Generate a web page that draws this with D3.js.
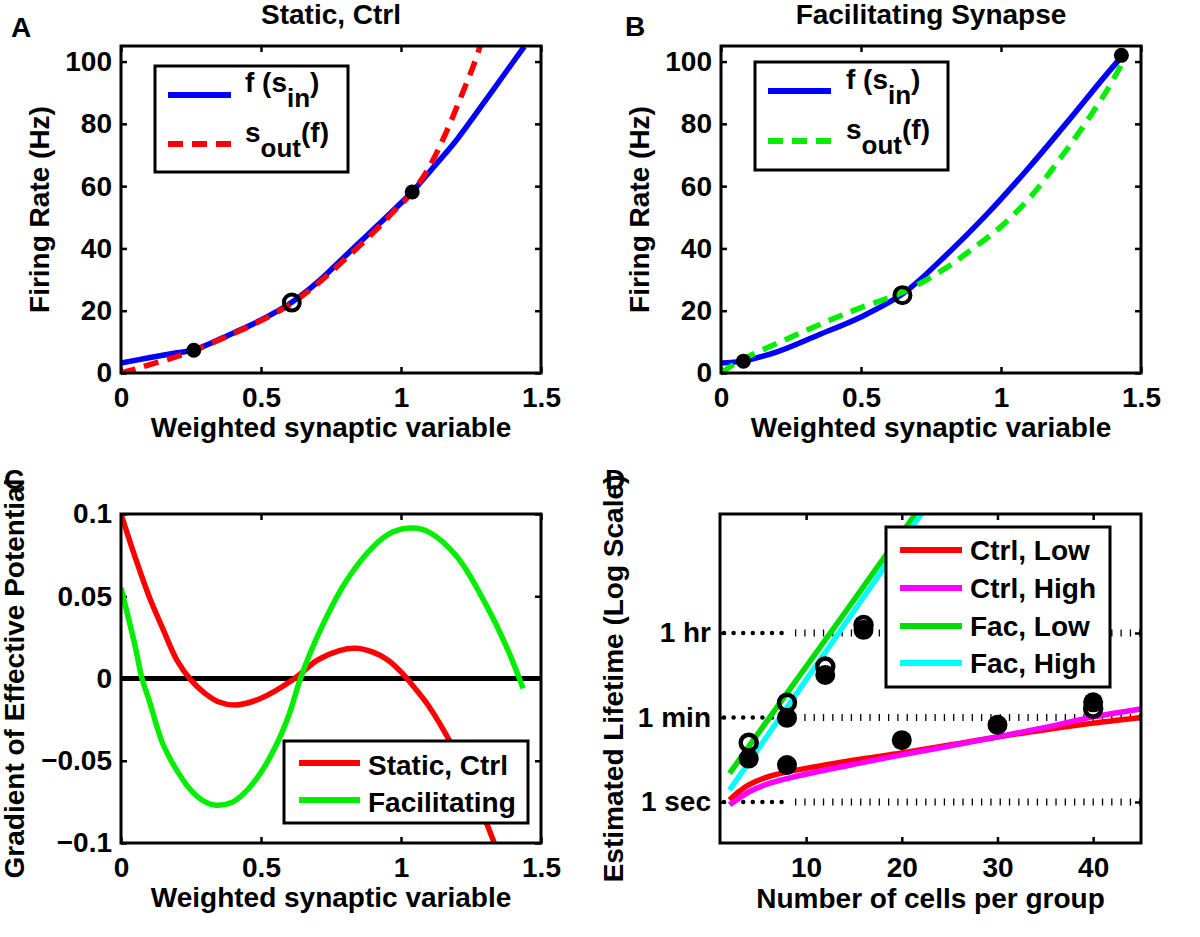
<!DOCTYPE html>
<html><head><meta charset="utf-8">
<script src="https://cdn.jsdelivr.net/npm/d3@7"></script>
<style>
html,body{margin:0;padding:0;background:#fff;}
svg{display:block;}
</style></head>
<body>
<script>
// ---------------- DATA ----------------
const abXTicks = [0, 0.5, 1, 1.5];
const abXTickLabels = ["0", "0.5", "1", "1.5"];
const abYTicks = [0, 20, 40, 60, 80, 100];

// Panel A: Static, Ctrl
const aFin = [[0,3.2],[0.1,4.9],[0.2,6.5],[0.26,7.4],[0.4,12.8],[0.5,17],[0.61,22.7],[0.7,29],[0.8,37.5],[0.9,46],[1.04,58.2],[1.12,66.5],[1.2,75],[1.3,87.3],[1.36,94.8],[1.44,104.8]];
const aSout = [[0,0],[0.05,1.2],[0.1,2.6],[0.2,5.3],[0.26,7.2],[0.4,12.6],[0.5,16.8],[0.61,22.4],[0.7,28.5],[0.8,36.5],[0.9,45],[0.97,51.5],[1.04,58],[1.1,66],[1.16,77],[1.22,90],[1.26,99],[1.29,107]];
const aFilled = [[0.26,7.3],[1.04,58.1]];
const aOpen = [[0.61,22.6]];

// Panel B: Facilitating Synapse
const bFin = [[0,3.2],[0.08,3.9],[0.2,6.8],[0.35,12.3],[0.5,18],[0.65,25.5],[0.8,37.5],[0.95,51],[1.1,66],[1.25,82],[1.35,93],[1.43,101.5]];
const bSout = [[0,0],[0.05,3],[0.1,5.4],[0.2,9.5],[0.3,13.5],[0.4,17.4],[0.5,21],[0.65,26],[0.8,33.5],[0.9,40],[1.0,47],[1.1,56],[1.2,67.5],[1.3,80],[1.38,91],[1.43,99]];
const bFilled = [[0.08,3.8],[1.43,102]];
const bOpen = [[0.648,25]];

// Panel C: gradient of effective potential
const cYTicks = [-0.1, -0.05, 0, 0.05, 0.1];
const cYTickLabels = ["\u22120.1", "\u22120.05", "0", "0.05", "0.1"];
const cStatic = [[0,0.1],[0.05,0.074],[0.1,0.05],[0.15,0.03],[0.2,0.011],[0.25,-0.001],[0.3,-0.009],[0.35,-0.0143],[0.408,-0.0161],[0.5,-0.012],[0.62,0],[0.7,0.011],[0.78,0.017],[0.84,0.0184],[0.9,0.016],[0.95,0.0115],[1.0,0.004],[1.05,-0.006],[1.1,-0.017],[1.18,-0.04],[1.25,-0.065],[1.333,-0.1],[1.36,-0.113]];
const cFac = [[0,0.055],[0.05,0.02],[0.075,0],[0.1,-0.013],[0.15,-0.04],[0.2,-0.056],[0.25,-0.068],[0.3,-0.075],[0.34,-0.077],[0.4,-0.075],[0.45,-0.068],[0.5,-0.057],[0.55,-0.042],[0.6,-0.022],[0.641,0],[0.7,0.025],[0.8,0.058],[0.9,0.08],[0.97,0.089],[1.042,0.0915],[1.1,0.089],[1.2,0.074],[1.3,0.046],[1.38,0.018],[1.436,-0.006]];
const cZero = [[0,0],[1.5,0]];

// Panel D: estimated lifetime (seconds, log scale) vs number of cells
const dXTicks = [10, 20, 30, 40];
const dYTicks = [1, 60, 3600];
const dYTickLabels = ["1 sec", "1 min", "1 hr"];
const dCtrlLow  = [[2,1.1],[3,1.66],[4,2.29],[6,3.39],[8,4.27],[12,6.03],[16,8.13],[20,10.7],[25,15.8],[30,23.4],[35,33.1],[40,45.7],[45,60.3]];
const dCtrlHigh = [[2,0.87],[3,1.2],[4,1.62],[6,2.4],[8,3.1],[12,4.7],[16,6.8],[20,9.8],[25,15.1],[30,23.4],[35,37.2],[40,61.7],[45,91.2]];
const dFacLow   = [[2,4],[6,53.7],[10,708],[14,9330],[18,126000],[22,1660000]];
const dFacHigh  = [[2,1.78],[6,25.7],[10,372],[14,5370],[18,77600],[22,1120000],[23,2190000]];
const dFilled = [[4,8.2],[8,59],[8,6],[12,470],[16,4200],[20,20],[30,42],[40,125]];
const dOpen = [[4,17.6],[8,123],[12,710],[16,5300],[40,92]];

// ---------------- DRAW ----------------
const W = 1200, H = 937;
const FONT = "'Liberation Sans', Arial, Helvetica, sans-serif";
const FS = 28;
const LW = 5.5;
const svg = d3.select("body").append("svg").attr("width", W).attr("height", H)
  .attr("font-family", FONT).attr("font-weight", "bold");

const panels = {
  A: {x0:121, x1:541, y0:46, y1:373},
  B: {x0:721, x1:1141, y0:46, y1:373},
  C: {x0:121, x1:541, y0:514, y1:843},
  D: {x0:720, x1:1141, y0:514, y1:843}
};

function makeAxes(id, p, xs, ys, xTicks, xFmt, yTicks, yFmt, yPad) {
  const g = svg.append("g");
  const style = sel => {
    sel.select(".domain").remove();
    sel.attr("font-size", FS).attr("font-family", FONT).attr("font-weight", "bold");
    sel.selectAll("line").attr("stroke", "#000").attr("stroke-width", 2.5);
    sel.selectAll("text").attr("fill", "#000");
  };
  g.append("g").attr("transform", `translate(0,${p.y1})`)
    .call(d3.axisBottom(xs).tickValues(xTicks).tickFormat(xFmt).tickSizeInner(-6).tickSizeOuter(0).tickPadding(14)).call(style);
  g.append("g").attr("transform", `translate(0,${p.y0})`)
    .call(d3.axisTop(xs).tickValues(xTicks).tickFormat("").tickSizeInner(-6).tickSizeOuter(0)).call(style);
  g.append("g").attr("transform", `translate(${p.x0},0)`)
    .call(d3.axisLeft(ys).tickValues(yTicks).tickFormat(yFmt).tickSizeInner(-6).tickSizeOuter(0).tickPadding(yPad)).call(style);
  g.append("g").attr("transform", `translate(${p.x1},0)`)
    .call(d3.axisRight(ys).tickValues(yTicks).tickFormat("").tickSizeInner(-6).tickSizeOuter(0)).call(style);
  return g;
}
function box(p) {
  svg.append("rect").attr("x", p.x0).attr("y", p.y0).attr("width", p.x1 - p.x0).attr("height", p.y1 - p.y0)
    .attr("fill", "none").attr("stroke", "#000").attr("stroke-width", 3);
}
function clip(id, p) {
  svg.append("clipPath").attr("id", "clip" + id).append("rect")
    .attr("x", p.x0).attr("y", p.y0).attr("width", p.x1 - p.x0).attr("height", p.y1 - p.y0);
  return svg.append("g").attr("clip-path", `url(#clip${id})`);
}
function path(g, data, xs, ys, color, dash, width) {
  const line = d3.line().x(d => xs(d[0])).y(d => ys(d[1])).curve(d3.curveCatmullRom.alpha(0.5));
  g.append("path").datum(data).attr("d", line).attr("fill", "none").attr("stroke", color)
    .attr("stroke-width", width || LW).attr("stroke-dasharray", dash || null).attr("stroke-linejoin", "round");
}
function dots(g, data, xs, ys, r) {
  g.selectAll(null).data(data).enter().append("circle")
    .attr("cx", d => xs(d[0])).attr("cy", d => ys(d[1])).attr("r", r).attr("fill", "#000");
}
function rings(g, data, xs, ys, r, w) {
  g.selectAll(null).data(data).enter().append("circle")
    .attr("cx", d => xs(d[0])).attr("cy", d => ys(d[1])).attr("r", r)
    .attr("fill", "none").attr("stroke", "#000").attr("stroke-width", w);
}
function text(x, y, s, opts) {
  opts = opts || {};
  const t = svg.append("text").attr("x", x).attr("y", y).attr("font-size", opts.size || FS)
    .attr("text-anchor", opts.anchor || "start").attr("fill", "#000").text(s);
  if (opts.rotate) t.attr("transform", `rotate(-90,${x},${y})`);
  return t;
}
function legendBox(x0, y0, x1, y1) {
  svg.append("rect").attr("x", x0).attr("y", y0).attr("width", x1 - x0).attr("height", y1 - y0)
    .attr("fill", "#fff").attr("stroke", "#000").attr("stroke-width", 3);
}
function legendLine(x0, x1, y, color, dash) {
  svg.append("line").attr("x1", x0).attr("x2", x1).attr("y1", y).attr("y2", y)
    .attr("stroke", color).attr("stroke-width", 6).attr("stroke-dasharray", dash || null);
}
function subText(x, y, main, sub, tail, dySub) {
  const t = svg.append("text").attr("x", x).attr("y", y).attr("font-size", FS).attr("fill", "#000");
  t.append("tspan").text(main);
  t.append("tspan").attr("dy", dySub).attr("font-size", 26).text(sub);
  t.append("tspan").attr("dy", -dySub).text(tail);
}

// ---- Panels A & B ----
function panelAB(id, p, fin, sout, soutColor, filled, open, title) {
  const xs = d3.scaleLinear().domain([0, 1.5]).range([p.x0, p.x1]);
  const ys = d3.scaleLinear().domain([0, 105]).range([p.y1, p.y0]);
  makeAxes(id, p, xs, ys, abXTicks, (d, i) => abXTickLabels[i], abYTicks, d3.format("d"), 9);
  const g = clip(id, p);
  path(g, fin, xs, ys, "#0000ff");
  path(g, sout, xs, ys, soutColor, "15 9");
  dots(g, filled, xs, ys, 7.5);
  rings(g, open, xs, ys, 8, 4);
  box(p);
  const cx = (p.x0 + p.x1) / 2;
  text(cx, 24, title, {anchor: "middle"});
  text(cx, p.y1 + 64, "Weighted synaptic variable", {anchor: "middle"});
  text(p.x0 - 72, (p.y0 + p.y1) / 2, "Firing Rate (Hz)", {anchor: "middle", rotate: true});
  return {xs, ys};
}
panelAB("A", panels.A, aFin, aSout, "#ff0000", aFilled, aOpen, "Static, Ctrl");
panelAB("B", panels.B, bFin, bSout, "#00ee00", bFilled, bOpen, "Facilitating Synapse");

// legends A, B
legendBox(155, 66, 348, 172);
legendLine(168, 231, 95, "#0000ff");
legendLine(168, 231, 144, "#ff0000", "15 9");
subText(245, 92, "f (s", "in", ")", 15);
subText(245, 142, "s", "out", "(f)", 15);

legendBox(755, 62, 948, 170);
legendLine(768, 831, 91, "#0000ff");
legendLine(768, 831, 141, "#00ee00", "15 9");
subText(846, 89, "f (s", "in", ")", 15);
subText(846, 139, "s", "out", "(f)", 15);

text(11, 37, "A");
text(625, 36, "B");

// ---- Panel C ----
(function(){
  const p = panels.C;
  const xs = d3.scaleLinear().domain([0, 1.5]).range([p.x0, p.x1]);
  const ys = d3.scaleLinear().domain([-0.1, 0.1]).range([p.y1, p.y0]);
  makeAxes("C", p, xs, ys, abXTicks, (d, i) => abXTickLabels[i], cYTicks, (d, i) => cYTickLabels[i], 9);
  const g = clip("C", p);
  path(g, cZero, xs, ys, "#000", null, 5);
  path(g, cStatic, xs, ys, "#ff0000");
  path(g, cFac, xs, ys, "#00ee00");
  box(p);
  text((p.x0 + p.x1) / 2, p.y1 + 64, "Weighted synaptic variable", {anchor: "middle"});
  text(24, (p.y0 + p.y1) / 2, "Gradient of Effective Potential", {anchor: "middle", rotate: true});
  legendBox(284, 741, 528, 823);
  legendLine(299, 360, 763, "#ff0000");
  legendLine(299, 360, 800, "#00ee00");
  text(368, 775, "Static, Ctrl");
  text(368, 812, "Facilitating");
  text(4, 489, "C");
})();

// ---- Panel D ----
(function(){
  const p = panels.D;
  const xs = d3.scaleLinear().domain([1, 45]).range([p.x0, p.x1]);
  const ys = d3.scaleLog().domain([0.137, 1.15e6]).range([p.y1, p.y0]);
  makeAxes("D", p, xs, ys, dXTicks, d3.format("d"), dYTicks, (d, i) => dYTickLabels[i], 9);
  // dotted grid lines
  const grid = svg.append("g");
  dYTicks.forEach(v => {
    grid.append("line").attr("x1", xs(1) + 4).attr("x2", xs(8)).attr("y1", ys(v)).attr("y2", ys(v))
      .attr("stroke", "#000").attr("stroke-width", 4.5).attr("stroke-linecap", "round").attr("stroke-dasharray", "0 9.6");
    grid.append("line").attr("x1", xs(8) + 8).attr("x2", xs(45)).attr("y1", ys(v)).attr("y2", ys(v))
      .attr("stroke", "#000").attr("stroke-width", 7).attr("stroke-dasharray", "1.3 8");
  });
  const g = clip("D", p);
  path(g, dCtrlLow, xs, ys, "#ff0000");
  path(g, dCtrlHigh, xs, ys, "#ff00ff");
  path(g, dFacLow, xs, ys, "#00dd00");
  path(g, dFacHigh, xs, ys, "#00ffff");
  dots(g, dFilled, xs, ys, 10);
  rings(g, dOpen, xs, ys, 8, 4.5);
  box(p);
  text((p.x0 + p.x1) / 2, p.y1 + 65, "Number of cells per group", {anchor: "middle"});
  text(623, (p.y0 + p.y1) / 2, "Estimated Lifetime (Log Scale)", {anchor: "middle", rotate: true});
  legendBox(886, 527, 1110, 687);
  const names = ["Ctrl, Low", "Ctrl, High", "Fac, Low", "Fac, High"];
  const cols = ["#ff0000", "#ff00ff", "#00dd00", "#00ffff"];
  const ly = [550, 588, 626, 663];
  names.forEach((n, i) => {
    legendLine(900, 962, ly[i], cols[i]);
    text(970, ly[i] + 10, n);
  });
  text(605, 489, "D");
})();
</script>
</body></html>
